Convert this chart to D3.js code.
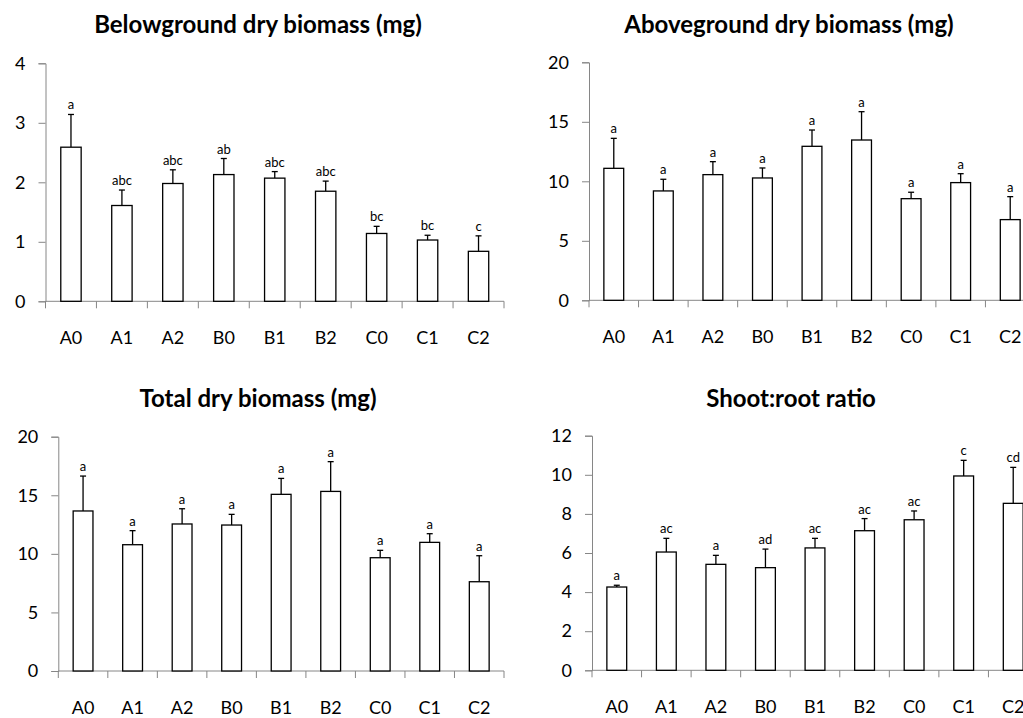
<!DOCTYPE html>
<html>
<head>
<meta charset="utf-8">
<script src="https://cdn.jsdelivr.net/npm/d3@7"></script>
<style>
  html, body { margin: 0; padding: 0; background: #fff; overflow: hidden; }
  svg { display: block; font-family: Lato, "Open Sans", sans-serif; }
</style>
</head>
<body>
<svg id="chart" width="1023" height="718"></svg>
<script>
const categories = ["A0", "A1", "A2", "B0", "B1", "B2", "C0", "C1", "C2"];

const belowMean = [2.59, 1.61, 1.98, 2.13, 2.07, 1.85, 1.14, 1.03, 0.84];
const belowErr  = [0.55, 0.26, 0.23, 0.27, 0.11, 0.17, 0.12, 0.08, 0.26];
const belowLetters = ["a", "abc", "abc", "ab", "abc", "abc", "bc", "bc", "c"];
const belowTicks = [0, 1, 2, 3, 4];

const aboveMean = [11.09, 9.19, 10.56, 10.28, 12.94, 13.47, 8.54, 9.89, 6.78];
const aboveErr  = [2.52, 0.98, 1.09, 0.84, 1.37, 2.38, 0.54, 0.75, 1.93];
const aboveLetters = ["a", "a", "a", "a", "a", "a", "a", "a", "a"];
const aboveTicks = [0, 5, 10, 15, 20];

const totalMean = [13.66, 10.78, 12.55, 12.46, 15.08, 15.33, 9.67, 10.98, 7.62];
const totalErr  = [2.98, 1.20, 1.30, 0.91, 1.36, 2.54, 0.63, 0.74, 2.22];
const totalLetters = ["a", "a", "a", "a", "a", "a", "a", "a", "a"];
const totalTicks = [0, 5, 10, 15, 20];

const ratioMean = [4.26, 6.05, 5.42, 5.25, 6.26, 7.14, 7.70, 9.94, 8.54];
const ratioErr  = [0.09, 0.70, 0.46, 0.95, 0.49, 0.62, 0.45, 0.80, 1.84];
const ratioLetters = ["a", "ac", "a", "ad", "ac", "ac", "ac", "c", "cd"];
const ratioTicks = [0, 2, 4, 6, 8, 10, 12];

const titles = ["Belowground dry biomass (mg)", "Aboveground dry biomass (mg)", "Total dry biomass (mg)", "Shoot:root ratio"];

const panels = [
  { title: titles[0], mean: belowMean, err: belowErr, letters: belowLetters, ticks: belowTicks,
    x0: 45.5, x1: 504, y0: 301.3, y1: 63.3, titleX: 258, titleY: 33 },
  { title: titles[1], mean: aboveMean, err: aboveErr, letters: aboveLetters, ticks: aboveTicks,
    x0: 589, x1: 1035, y0: 300.3, y1: 62.3, titleX: 789, titleY: 33 },
  { title: titles[2], mean: totalMean, err: totalErr, letters: totalLetters, ticks: totalTicks,
    x0: 58.3, x1: 504, y0: 671, y1: 436.7, titleX: 258, titleY: 407 },
  { title: titles[3], mean: ratioMean, err: ratioErr, letters: ratioLetters, ticks: ratioTicks,
    x0: 592, x1: 1038, y0: 670.3, y1: 435.7, titleX: 791, titleY: 407 }
];

const svg = d3.select("#chart");
const axisColor = "#868686";

panels.forEach(p => {
  const g = svg.append("g");
  const x = d3.scaleBand().domain(categories).range([p.x0, p.x1]).padding(0);
  const y = d3.scaleLinear().domain([0, d3.max(p.ticks)]).range([p.y0, p.y1]);
  const bw = x.bandwidth() * 0.4;

  g.append("text")
    .attr("x", p.titleX).attr("y", p.titleY)
    .attr("text-anchor", "middle")
    .attr("font-weight", "bold")
    .attr("font-size", 24)
    .attr("fill", "#000")
    .text(p.title);

  // y axis
  const yAxis = g.append("g")
    .attr("transform", `translate(${p.x0},0)`)
    .call(d3.axisLeft(y).tickValues(p.ticks).tickSize(7).tickPadding(13).tickFormat(d3.format("d")));
  yAxis.select(".domain").attr("stroke", axisColor);
  yAxis.selectAll(".tick line").attr("stroke", axisColor);
  yAxis.selectAll(".tick text").attr("font-size", 18).attr("fill", "#000").attr("font-family", "Lato, sans-serif");

  // x axis
  const xAxis = g.append("g")
    .attr("transform", `translate(0,${p.y0})`)
    .call(d3.axisBottom(x).tickSize(0).tickPadding(30));
  xAxis.select(".domain").remove();
  xAxis.selectAll(".tick text").attr("font-size", 18).attr("fill", "#000").attr("font-family", "Lato, sans-serif");
  g.append("line")
    .attr("x1", p.x0).attr("x2", p.x1)
    .attr("y1", p.y0).attr("y2", p.y0)
    .attr("stroke", axisColor);
  g.selectAll(".xtick")
    .data(categories.concat(["end"]))
    .join("line")
    .attr("class", "xtick")
    .attr("x1", (d, i) => p.x0 + i * x.step())
    .attr("x2", (d, i) => p.x0 + i * x.step())
    .attr("y1", p.y0).attr("y2", p.y0 + 7)
    .attr("stroke", axisColor);

  // error bars
  g.selectAll(".err")
    .data(categories)
    .join("line")
    .attr("x1", d => x(d) + x.bandwidth() / 2)
    .attr("x2", d => x(d) + x.bandwidth() / 2)
    .attr("y1", (d, i) => y(p.mean[i]))
    .attr("y2", (d, i) => y(p.mean[i] + p.err[i]))
    .attr("stroke", "#000").attr("stroke-width", 1.3);
  g.selectAll(".cap")
    .data(categories)
    .join("line")
    .attr("x1", d => x(d) + x.bandwidth() / 2 - 3)
    .attr("x2", d => x(d) + x.bandwidth() / 2 + 3)
    .attr("y1", (d, i) => y(p.mean[i] + p.err[i]))
    .attr("y2", (d, i) => y(p.mean[i] + p.err[i]))
    .attr("stroke", "#000").attr("stroke-width", 1.3);

  // bars
  g.selectAll(".bar")
    .data(categories)
    .join("rect")
    .attr("x", d => x(d) + (x.bandwidth() - bw) / 2)
    .attr("width", bw)
    .attr("y", (d, i) => y(p.mean[i]))
    .attr("height", (d, i) => p.y0 - y(p.mean[i]))
    .attr("fill", "#fff")
    .attr("stroke", "#000")
    .attr("stroke-width", 1.3);

  // letters
  g.selectAll(".letter")
    .data(categories)
    .join("text")
    .attr("x", d => x(d) + x.bandwidth() / 2)
    .attr("y", (d, i) => y(p.mean[i] + p.err[i]) - 5)
    .attr("text-anchor", "middle")
    .attr("font-size", 13)
    .attr("fill", "#000")
    .text((d, i) => p.letters[i]);
});
</script>
</body>
</html>
